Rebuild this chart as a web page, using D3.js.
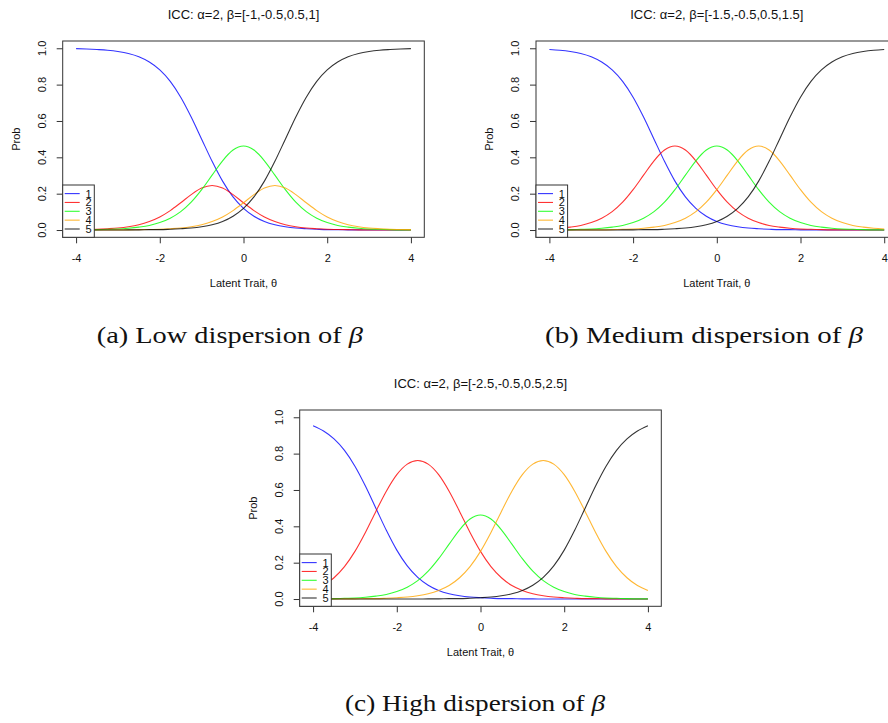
<!DOCTYPE html>
<html><head><meta charset="utf-8">
<script src="https://cdn.jsdelivr.net/npm/d3@7"></script>
<style>body{margin:0;background:#fff}svg{display:block}</style>
</head><body>
<script>
// ---- data ----
const theta = [-4,-3.75,-3.5,-3.25,-3,-2.75,-2.5,-2.25,-2,-1.75,-1.5,-1.25,-1,-0.75,-0.5,-0.25,0,
  0.25,0.5,0.75,1,1.25,1.5,1.75,2,2.25,2.5,2.75,3,3.25,3.5,3.75,4];
const categories = ["1","2","3","4","5"];
const xTicks = [-4,-2,0,2,4];
const yTicks = [0,0.2,0.4,0.6,0.8,1.0];
const yTickLabels = ["0.0","0.2","0.4","0.6","0.8","1.0"];
const titles = ["ICC: \u03b1=2, \u03b2=[-1,-0.5,0.5,1]","ICC: \u03b1=2, \u03b2=[-1.5,-0.5,0.5,1.5]","ICC: \u03b1=2, \u03b2=[-2.5,-0.5,0.5,2.5]"];
const captions = ["(a) Low dispersion of ","(b) Medium dispersion of ","(c) High dispersion of "];
const xLabel = "Latent Trait, \u03b8";
const yLabel = "Prob";

// panel (a) low dispersion
const lowCat1 = [.998,.996,.993,.989,.982,.971,.953,.924,.881,.818,.731,.622,.500,.378,.269,.182,.119,.076,.047,.029,.018,.011,.007,.004,.002,.002,.001,.001,0,0,0,0,0];
const lowCat2 = [.002,.003,.004,.007,.011,.018,.029,.047,.072,.107,.150,.195,.231,.245,.231,.195,.150,.107,.072,.047,.029,.018,.011,.007,.004,.003,.002,.001,.001,0,0,0,0];
const lowCat3 = [.001,.001,.002,.004,.006,.010,.016,.025,.041,.065,.101,.153,.222,.302,.381,.440,.462,.440,.381,.302,.222,.153,.101,.065,.041,.025,.016,.010,.006,.004,.002,.001,.001];
const lowCat4 = [0,0,0,0,.001,.001,.002,.003,.004,.007,.011,.018,.029,.047,.072,.107,.150,.195,.231,.245,.231,.195,.150,.107,.072,.047,.029,.018,.011,.007,.004,.003,.002];
const lowCat5 = [0,0,0,0,0,.001,.001,.002,.002,.004,.007,.011,.018,.029,.047,.076,.119,.182,.269,.378,.500,.622,.731,.818,.881,.924,.953,.971,.982,.989,.993,.996,.998];
// panel (b) medium dispersion
const medCat1 = [.993,.989,.982,.971,.953,.924,.881,.818,.731,.622,.500,.378,.269,.182,.119,.076,.047,.029,.018,.011,.007,.004,.002,.002,.001,.001,0,0,0,0,0,0,0];
const medCat2 = [.006,.010,.016,.025,.041,.065,.101,.153,.222,.302,.381,.440,.462,.440,.381,.302,.222,.153,.101,.065,.041,.025,.016,.010,.006,.004,.002,.001,.001,.001,0,0,0];
const medCat3 = [.001,.001,.002,.004,.006,.010,.016,.025,.041,.065,.101,.153,.222,.302,.381,.440,.462,.440,.381,.302,.222,.153,.101,.065,.041,.025,.016,.010,.006,.004,.002,.001,.001];
const medCat4 = [0,0,0,.001,.001,.001,.002,.004,.006,.010,.016,.025,.041,.065,.101,.153,.222,.302,.381,.440,.462,.440,.381,.302,.222,.153,.101,.065,.041,.025,.016,.010,.006];
const medCat5 = [0,0,0,0,0,0,0,.001,.001,.002,.002,.004,.007,.011,.018,.029,.047,.076,.119,.182,.269,.378,.500,.622,.731,.818,.881,.924,.953,.971,.982,.989,.993];
// panel (c) high dispersion
const highCat1 = [.953,.924,.881,.818,.731,.622,.500,.378,.269,.182,.119,.076,.047,.029,.018,.011,.007,.004,.002,.002,.001,.001,0,0,0,0,0,0,0,0,0,0,0];
const highCat2 = [.047,.074,.117,.178,.262,.366,.482,.593,.684,.742,.762,.742,.684,.593,.482,.366,.262,.178,.117,.074,.047,.029,.018,.011,.007,.004,.002,.002,.001,.001,0,0,0];
const highCat3 = [.001,.001,.002,.004,.006,.010,.016,.025,.041,.065,.101,.153,.222,.302,.381,.440,.462,.440,.381,.302,.222,.153,.101,.065,.041,.025,.016,.010,.006,.004,.002,.001,.001];
const highCat4 = [0,0,0,.001,.001,.002,.002,.004,.007,.011,.018,.029,.047,.074,.117,.178,.262,.366,.482,.593,.684,.742,.762,.742,.684,.593,.482,.366,.262,.178,.117,.074,.047];
const highCat5 = [0,0,0,0,0,0,0,0,0,0,0,.001,.001,.002,.002,.004,.007,.011,.018,.029,.047,.076,.119,.182,.269,.378,.500,.622,.731,.818,.881,.924,.953];

// ---- styles / layout ----
const colors = ["#0000ff","#ff0000","#00ff00","#ffa500","#000000"];
const W = 888, H = 723;
const boxW = 361.6, boxH = 196.3;
const panels = [
  {left:62.7, top:41, title:titles[0], series:[lowCat1,lowCat2,lowCat3,lowCat4,lowCat5]},
  {left:536, top:41, title:titles[1], series:[medCat1,medCat2,medCat3,medCat4,medCat5]},
  {left:299.7, top:410, title:titles[2], series:[highCat1,highCat2,highCat3,highCat4,highCat5]}
];
const capPos = [{x:96.7,w:266.3,y:343.3},{x:545,w:318,y:343.3},{x:345,w:260,y:710.5}];
const sans = "'Liberation Sans', Arial, Helvetica, sans-serif";

const svg = d3.select("body").append("svg").attr("width",W).attr("height",H)
  .attr("viewBox",`0 0 ${W} ${H}`);
svg.append("rect").attr("width",W).attr("height",H).attr("fill","#fff");

const x = d3.scaleLinear().domain([-4.32,4.32]).range([0,boxW]);
const y = d3.scaleLinear().domain([-0.04,1.04]).range([boxH,0]);
const line = d3.line().x((d,i)=>x(theta[i])).y(d=>y(d)).curve(d3.curveMonotoneX);

panels.forEach((p,pi)=>{
  const g = svg.append("g").attr("transform",`translate(${p.left},${p.top})`);
  const clipId = "clip"+pi;
  g.append("clipPath").attr("id",clipId).append("rect").attr("width",boxW).attr("height",boxH);

  // curves
  const cg = g.append("g").attr("clip-path",`url(#${clipId})`);
  p.series.forEach((s,k)=>{
    cg.append("path").attr("d",line(s)).attr("fill","none")
      .attr("stroke",colors[k]).attr("stroke-width",1.1).attr("stroke-opacity",0.8);
  });

  // x axis
  const xa = g.append("g").attr("transform",`translate(0,${boxH})`)
    .call(d3.axisBottom(x).tickValues(xTicks).tickSize(6).tickSizeOuter(0).tickFormat(d3.format("d")));
  xa.select(".domain").remove();
  xa.selectAll(".tick line").attr("stroke","#333");
  xa.selectAll(".tick text").attr("y",24.7).attr("dy",null)
    .attr("font-family",sans).attr("font-size",11).attr("fill","#111")
    .text(d=>d<0?"-"+Math.abs(d):d);

  // y axis
  const ya = g.append("g").call(d3.axisLeft(y).tickValues(yTicks).tickSize(6).tickSizeOuter(0).tickFormat(""));
  ya.select(".domain").remove();
  ya.selectAll(".tick line").attr("stroke","#333");
  g.selectAll(".ylab").data(yTicks).enter().append("text")
    .attr("transform",d=>`translate(-17,${y(d)}) rotate(-90)`)
    .attr("text-anchor","middle").attr("font-family",sans).attr("font-size",11).attr("fill","#111")
    .text((d,i)=>yTickLabels[i]);

  // box
  g.append("rect").attr("width",boxW).attr("height",boxH).attr("fill","none")
    .attr("stroke","#333").attr("stroke-width",1);

  // title
  g.append("text").attr("x",boxW/2).attr("y",-22.3).attr("text-anchor","middle")
    .attr("font-family",sans).attr("font-size",13).attr("fill","#111").text(p.title);
  // axis titles
  g.append("text").attr("x",boxW/2).attr("y",boxH+50).attr("text-anchor","middle")
    .attr("font-family",sans).attr("font-size",11).attr("fill","#111").text(xLabel);
  g.append("text").attr("transform",`translate(-42.6,${boxH/2}) rotate(-90)`).attr("text-anchor","middle")
    .attr("font-family",sans).attr("font-size",11).attr("fill","#111").text(yLabel);

  // legend (bottom-left)
  const lw = 31.6, lh = 52.3;
  const lg = g.append("g").attr("transform",`translate(0,${boxH-lh})`);
  lg.append("rect").attr("width",lw).attr("height",lh).attr("fill","#fff").attr("stroke","#333").attr("stroke-width",1);
  categories.forEach((c,k)=>{
    const yy = 8.6 + k*8.85;
    lg.append("line").attr("x1",2).attr("x2",17).attr("y1",yy).attr("y2",yy)
      .attr("stroke",colors[k]).attr("stroke-width",1.1).attr("stroke-opacity",0.8);
    lg.append("text").attr("x",22.8).attr("y",yy+4).attr("font-family",sans).attr("font-size",11)
      .attr("fill","#111").text(c);
  });
});

// captions
captions.forEach((c,i)=>{
  const t = svg.append("text").attr("x",capPos[i].x).attr("y",capPos[i].y)
    .attr("font-family","'Liberation Serif','Times New Roman',serif").attr("font-size",23.5).attr("fill","#111")
    .attr("textLength",capPos[i].w).attr("lengthAdjust","spacingAndGlyphs");
  t.append("tspan").text(c);
  t.append("tspan").attr("font-style","italic").text("\u03b2");
});
</script>
</body></html>
